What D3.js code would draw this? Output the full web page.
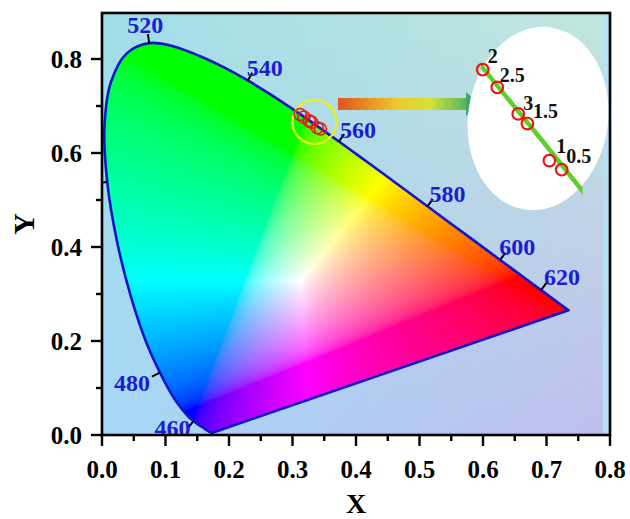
<!DOCTYPE html>
<html><head><meta charset="utf-8">
<script src="https://cdn.jsdelivr.net/npm/d3@7"></script>
<style>body{margin:0;background:#fff}svg{display:block}</style>
</head><body><svg id="c" width="630" height="519"></svg>
<script>
// CIE 1931 spectral locus (2 deg), 5 nm steps
const locusNm = [380,385,390,395,400,405,410,415,420,425,430,435,440,445,450,455,460,465,470,475,480,485,490,495,500,505,510,515,520,525,530,535,540,545,550,555,560,565,570,575,580,585,590,595,600,605,610,615,620,625,630,635,640,645,650,655,660,665,670,675,680,685,690,695,700];
const locusX = [0.1741,0.1740,0.1738,0.1736,0.1733,0.1730,0.1726,0.1721,0.1714,0.1703,0.1689,0.1669,0.1644,0.1611,0.1566,0.1510,0.1440,0.1355,0.1241,0.1096,0.0913,0.0687,0.0454,0.0235,0.0082,0.0039,0.0139,0.0389,0.0743,0.1142,0.1547,0.1929,0.2296,0.2658,0.3016,0.3373,0.3731,0.4087,0.4441,0.4788,0.5125,0.5448,0.5752,0.6029,0.6270,0.6482,0.6658,0.6801,0.6915,0.7006,0.7079,0.7140,0.7190,0.7230,0.7260,0.7283,0.7300,0.7311,0.7320,0.7327,0.7334,0.7340,0.7344,0.7346,0.7347];
const locusY = [0.0050,0.0050,0.0049,0.0049,0.0048,0.0048,0.0048,0.0048,0.0051,0.0058,0.0069,0.0086,0.0109,0.0138,0.0177,0.0227,0.0297,0.0399,0.0578,0.0868,0.1327,0.2007,0.2950,0.4127,0.5384,0.6548,0.7502,0.8120,0.8338,0.8262,0.8059,0.7816,0.7543,0.7243,0.6923,0.6589,0.6245,0.5896,0.5547,0.5202,0.4866,0.4544,0.4242,0.3965,0.3725,0.3514,0.3340,0.3197,0.3083,0.2993,0.2920,0.2859,0.2809,0.2770,0.2740,0.2717,0.2700,0.2689,0.2680,0.2673,0.2666,0.2660,0.2656,0.2654,0.2653];
const markNm = [460,480,500,520,540,560,580,600,620];
const sampleLabels = ["2","2.5","3","1.5","1","0.5"];
const sampleX = [0.3120,0.3179,0.3264,0.3301,0.3390,0.3440];
const sampleY = [0.6820,0.6765,0.6683,0.6653,0.6538,0.6510];
const xTickVals = [0,0.1,0.2,0.3,0.4,0.5,0.6,0.7,0.8];
const xMinorVals = [0.05,0.15,0.25,0.35,0.45,0.55,0.65,0.75];
const yTickVals = [0,0.2,0.4,0.6,0.8];
const yMinorVals = [0.1,0.3,0.5,0.7];

const L=102,R=610,T=13,B=435;
const x = d3.scaleLinear().domain([0,0.8]).range([L,R]);
const y = d3.scaleLinear().domain([0,0.9]).range([B,T-1]);
const svg = d3.select("#c");
const defs = svg.append("defs");
const FONT = "'Liberation Serif','Times New Roman',serif";

// background canvas (bilinear)
function makeBg(){
  const w=R-L,h=B-T,c=document.createElement("canvas");c.width=w;c.height=h;
  const ctx=c.getContext("2d"),img=ctx.createImageData(w,h);
  const TL=[160,222,232],TR=[194,230,222],BL=[166,216,246],BR=[190,190,238];
  for(let j=0;j<h;j++){const v=j/(h-1);for(let i=0;i<w;i++){const u=i/(w-1);const k=(j*w+i)*4;
    for(let ch=0;ch<3;ch++){img.data[k+ch]=(1-u)*(1-v)*TL[ch]+u*(1-v)*TR[ch]+(1-u)*v*BL[ch]+u*v*BR[ch];}
    img.data[k+3]=255;}}
  ctx.putImageData(img,0,0);return c.toDataURL();
}
svg.append("image").attr("x",L).attr("y",T).attr("width",R-L).attr("height",B-T).attr("href",makeBg());
svg.append("rect").attr("x",R-7).attr("y",T).attr("width",6).attr("height",B-T).attr("fill","#b6e0f6");

// gamut image
function makeGamut(){
  const w=R-L,h=B-T,c=document.createElement("canvas");c.width=w;c.height=h;
  const ctx=c.getContext("2d"),img=ctx.createImageData(w,h);
  const g=v=>v<=0.0031308?12.92*v:1.055*Math.pow(v,1/2.4)-0.055;
  for(let j=0;j<h;j++){for(let i=0;i<w;i++){
    const xd=x.invert(L+i+0.5),yd=Math.max(y.invert(T+j+0.5),0.001);
    const X=xd/yd,Y=1,Z=(1-xd-yd)/yd;
    let r=3.2406*X-1.5372*Y-0.4986*Z,gg=-0.9689*X+1.8758*Y+0.0415*Z,b=0.0557*X-0.2040*Y+1.0570*Z;
    r=Math.max(r,0);gg=Math.max(gg,0);b=Math.max(b,0);const m=Math.max(r,gg,b)||1;
    const k=(j*w+i)*4;img.data[k]=255*g(r/m);img.data[k+1]=255*g(gg/m);img.data[k+2]=255*g(b/m);img.data[k+3]=255;}}
  ctx.putImageData(img,0,0);return c.toDataURL();
}
const pts = locusX.map((d,i)=>[d,locusY[i]]);
const locusPath = d3.line().x(d=>x(d[0])).y(d=>y(d[1])).curve(d3.curveCatmullRom.alpha(0.5));
const closed = locusPath(pts)+"Z";
defs.append("clipPath").attr("id","gam").append("path").attr("d",closed);
defs.append("clipPath").attr("id","plot").append("rect").attr("x",L).attr("y",T).attr("width",R-L).attr("height",B-T);
svg.append("image").attr("x",L).attr("y",T).attr("width",R-L).attr("height",B-T).attr("href",makeGamut()).attr("clip-path","url(#gam)");
svg.append("path").attr("d",closed).attr("fill","none").attr("stroke","#1414c8").attr("stroke-width",2.6).attr("stroke-linejoin","round");

// wavelength marks
const labOff = {460:[-21,7],480:[-28,10],500:[-29,6],520:[-4,-19],540:[17,-13],560:[19,-12],580:[20,-13],600:[17,-13],620:[21,-13]};
const gm = svg.append("g").attr("clip-path","url(#plot)");
markNm.forEach(nm=>{
  const i=locusNm.indexOf(nm);
  const px=x(locusX[i]),py=y(locusY[i]);
  const tx=x(locusX[i+1])-x(locusX[i-1]),ty=y(locusY[i+1])-y(locusY[i-1]);const len=Math.hypot(tx,ty);
  const nx=ty/len,ny=-tx/len;
  gm.append("line").attr("x1",px).attr("y1",py).attr("x2",px+nx*9).attr("y2",py+ny*9).attr("stroke","#000").attr("stroke-width",2);
  gm.append("text").attr("x",px+labOff[nm][0]).attr("y",py+labOff[nm][1]).attr("dy","0.35em").attr("text-anchor","middle")
    .attr("font-family",FONT).attr("font-weight","bold").attr("font-size",24).attr("fill","#1c1cd2").text(nm);
});

// samples in main plot
const cx=d3.mean(sampleX),cy=d3.mean(sampleY);
svg.append("ellipse").attr("cx",x(cx)+4).attr("cy",y(cy)).attr("rx",22).attr("ry",22).attr("fill","none").attr("stroke","#eeee1c").attr("stroke-width",2.2);
svg.selectAll(".sm").data(sampleX).join("circle").attr("cx",(d)=>x(d)).attr("cy",(d,i)=>y(sampleY[i])).attr("r",6)
  .attr("fill","none").attr("stroke","#e81818").attr("stroke-width",1.6);

// arrow
const ag=defs.append("linearGradient").attr("id","arr");
[["0%","#e0541c"],["45%","#eec92e"],["70%","#d6e03a"],["100%","#4cb45c"]].forEach(s=>ag.append("stop").attr("offset",s[0]).attr("stop-color",s[1]));
svg.append("rect").attr("x",338).attr("y",98).attr("width",131).attr("height",12).attr("fill","url(#arr)");
svg.append("path").attr("d","M466,92L480,104L466,116Z").attr("fill","#3fa865");

// inset
svg.append("ellipse").attr("cx",538).attr("cy",118.5).attr("rx",70).attr("ry",92).attr("transform","rotate(8,538,118.5)").attr("fill","#fff");
const xi=d3.scaleLinear().domain([0.312,0.344]).range([482.7,561.7]);
const yi=d3.scaleLinear().domain([0.682,0.651]).range([69.7,169.7]);
defs.append("clipPath").attr("id","ins").append("rect").attr("x",xi(0.3112)).attr("y",0).attr("width",xi(0.3525)-xi(0.3112)).attr("height",519);
svg.append("path").attr("d",d3.line().x(d=>xi(d[0])).y(d=>yi(d[1]))(pts.slice(30,42))).attr("clip-path","url(#ins)")
  .attr("fill","none").attr("stroke","#5ecf26").attr("stroke-width",4.5);
svg.selectAll(".si").data(sampleX).join("circle").attr("cx",d=>xi(d)).attr("cy",(d,i)=>yi(sampleY[i])).attr("r",5.8)
  .attr("fill","none").attr("stroke","#ee1414").attr("stroke-width",2.2);
const insOff=[[10,-14],[15,-12],[10,-11],[18,-13],[12,-15],[17,-14]];
svg.selectAll(".sl").data(sampleLabels).join("text").attr("x",(d,i)=>xi(sampleX[i])+insOff[i][0]).attr("y",(d,i)=>yi(sampleY[i])+insOff[i][1]).attr("dy","0.35em")
  .attr("text-anchor","middle").attr("font-family",FONT).attr("font-weight","bold").attr("font-size",20).attr("fill","#111").text(d=>d);

// axes
const ax=svg.append("g");
ax.append("rect").attr("x",L).attr("y",T).attr("width",R-L).attr("height",B-T).attr("fill","none").attr("stroke","#000").attr("stroke-width",2.6);
const tk=(vals,len,horiz)=>vals.forEach(v=>{
  if(horiz) ax.append("line").attr("x1",x(v)).attr("x2",x(v)).attr("y1",B).attr("y2",B+len).attr("stroke","#000").attr("stroke-width",2.4);
  else ax.append("line").attr("y1",y(v)).attr("y2",y(v)).attr("x1",L).attr("x2",L-len).attr("stroke","#000").attr("stroke-width",2.4);
});
tk(xTickVals,11,true);tk(xMinorVals,6,true);tk(yTickVals,11,false);tk(yMinorVals,6,false);
const f=d3.format(".1f");
ax.selectAll(".xl").data(xTickVals).join("text").attr("x",d=>x(d)).attr("y",478).attr("text-anchor","middle")
  .attr("font-family",FONT).attr("font-weight","bold").attr("font-size",25).text(d=>f(d));
ax.selectAll(".yl").data(yTickVals).join("text").attr("x",82).attr("y",d=>y(d)).attr("dy","0.35em").attr("text-anchor","end")
  .attr("font-family",FONT).attr("font-weight","bold").attr("font-size",25).text(d=>f(d));
ax.append("text").attr("x",(L+R)/2).attr("y",513).attr("text-anchor","middle").attr("font-family",FONT).attr("font-weight","bold").attr("font-size",28).text("X");
ax.append("text").attr("transform","translate(23,224) rotate(-90)").attr("dy","0.35em").attr("text-anchor","middle").attr("font-family",FONT).attr("font-weight","bold").attr("font-size",30).text("Y");
</script></body></html>
